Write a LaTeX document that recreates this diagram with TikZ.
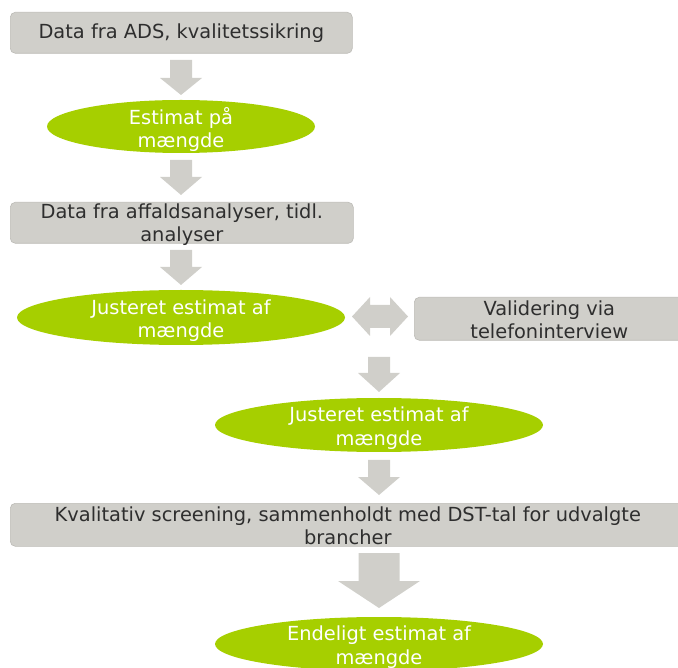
\documentclass[tikz,border=0pt]{standalone}
\usepackage{fontspec}
\setmainfont{DejaVu Sans}
\usetikzlibrary{shapes.geometric}
\definecolor{boxgray}{HTML}{D0CFCA}
\definecolor{boxline}{HTML}{BCBBB6}
\definecolor{limegreen}{HTML}{A6CF00}
\definecolor{txtdark}{HTML}{2E2E2E}
\tikzset{
  fnt/.style={font=\fontsize{19.4}{23.5}\selectfont},
  graybox/.style={draw=boxline, line width=0.6pt, fill=boxgray, rounded corners=5pt,
    text=txtdark, align=center, inner sep=0pt, anchor=north west, fnt},
  greenell/.style={ellipse, fill=limegreen, draw=none, inner sep=0pt},
  elltext/.style={text=white, align=center, inner sep=0pt, fnt},
  blockfill/.style={fill=boxgray, draw=none}
}
\newcommand\downblk[6]{%
  \fill[blockfill] ({#1-#5},#2) -- ({#1+#5},#2) -- ({#1+#5},#3) -- ({#1+#6},#3)
    -- (#1,#4) -- ({#1-#6},#3) -- ({#1-#5},#3) -- cycle;}
\begin{document}
\begin{tikzpicture}[x=1pt,y=-1pt]
\useasboundingbox (0,0) rectangle (678,668);
\clip (0,0) rectangle (678,668);

% boxes
\node[graybox, minimum width=342pt, minimum height=41pt] (b1) at (10,12) {Data fra ADS, kvalitetssikring};
\node[graybox, minimum width=343pt, minimum height=41pt] (b2) at (10,202) {};
\node[elltext, text=txtdark] (b2t) at ([yshift=-2pt]b2.center) {Data fra affaldsanalyser, tidl.\\analyser};
\node[graybox, minimum width=270pt, minimum height=43pt] (b3) at (414,297) {};
\node[elltext, text=txtdark] (b3t) at ([yshift=-1pt]b3.center) {Validering via\\telefoninterview};
\node[graybox, minimum width=675pt, minimum height=43pt] (b4) at (10,503) {};
\node[elltext, text=txtdark] (b4t) at ([yshift=-1pt]b4.center) {Kvalitativ screening, sammenholdt med DST-tal for udvalgte\\brancher};

% ellipses
\node[greenell, minimum width=268pt, minimum height=53pt] (e1) at (181,126.5) {};
\node[elltext] (e1t) at ([yshift=-3pt]e1.center) {Estimat på\\mængde};
\node[greenell, minimum width=328pt, minimum height=55pt] (e2) at (181,317.5) {};
\node[elltext] (e2t) at ([yshift=-3pt]e2.center) {Justeret estimat af\\mængde};
\node[greenell, minimum width=328pt, minimum height=54pt] (e3) at (379,425) {};
\node[elltext] (e3t) at ([yshift=-3pt]e3.center) {Justeret estimat af\\mængde};
\node[greenell, minimum width=328pt, minimum height=54pt] (e4) at (379,644) {};
\node[elltext] (e4t) at ([yshift=-3pt]e4.center) {Endeligt estimat af\\mængde};

% block arrows
\downblk{181}{60}{78}{95}{11}{21}
\downblk{181}{160}{177}{195}{11}{21}
\downblk{181}{250}{267}{285}{11}{21}
\downblk{379}{357}{373}{392}{11}{21}
\downblk{379}{460}{477}{495}{11}{21}
\downblk{379}{553}{581}{608}{20.5}{41}
% double arrow
\fill[blockfill] (352,316.5) -- (370,297) -- (370,305) -- (390,305) -- (390,297) -- (408,316.5)
  -- (390,336) -- (390,328) -- (370,328) -- (370,336) -- cycle;
\end{tikzpicture}
\end{document}
